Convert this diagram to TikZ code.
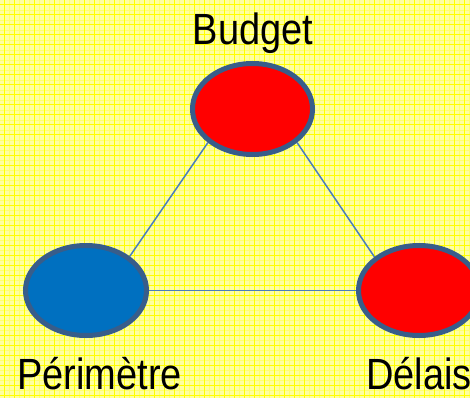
\documentclass[tikz,border=0pt]{standalone}
\usepackage{fontspec}
\setmainfont{Liberation Sans}
\usetikzlibrary{shapes.geometric}
\definecolor{bgyellow}{HTML}{FFFFA0}
\definecolor{gridmajor}{HTML}{FFFF00}
\definecolor{gridminor}{HTML}{FFFF70}
\definecolor{rimblue}{HTML}{385D8A}
\definecolor{linkblue}{HTML}{4A7EBB}
\definecolor{redfill}{HTML}{FF0000}
\definecolor{bluefill}{HTML}{0070C0}
\pgfdeclarelayer{bg}
\pgfsetlayers{bg,main}
\tikzset{
  blob/.style={ellipse, draw=rimblue, line width=5pt, inner sep=0pt},
  link/.style={draw=linkblue, line width=1.5pt},
  lbl/.style={inner sep=0pt, font=\fontsize{38}{40}\selectfont}
}
\begin{document}
\begin{tikzpicture}[x=1pt,y=-1pt]
\useasboundingbox (0,0) rectangle (470,398);
\begin{pgfonlayer}{bg}
  \fill[bgyellow] (0,0) rectangle (470,398);
  \foreach \x in {9,19,...,469} \draw[gridminor, line width=0.5pt] (\x,0) -- (\x,398);
  \foreach \y in {10,20,...,398} \draw[gridminor, line width=0.5pt] (0,\y) -- (470,\y);
  \foreach \x in {4,14,...,464} \draw[gridmajor, line width=1pt] (\x,0) -- (\x,398);
  \foreach \y in {5,15,...,395} \draw[gridmajor, line width=1pt] (0,\y) -- (470,\y);
\end{pgfonlayer}

\node[blob, fill=redfill, minimum width=120pt, minimum height=91pt] (top) at (252.5,109) {};
\node[blob, fill=bluefill, minimum width=121pt, minimum height=90pt] (left) at (86,290.5) {};
\node[blob, fill=redfill, minimum width=121pt, minimum height=90pt] (right) at (419,290.5) {};

\begin{pgfonlayer}{bg}
  \path[link] (top.217) -- (left.38);
  \path[link] (top.323) -- (right.143);
  \path[link] (left.east) -- (right.west);
\end{pgfonlayer}

\node[lbl, anchor=base] (budget) at (253,45) {\scalebox{1}[1.15]{Budget}};
\node[lbl, anchor=base] (perim) at (99.5,389) {\scalebox{1}[1.15]{Périmètre}};
\node[lbl, anchor=base west] (delais) at (366,389) {\scalebox{1}[1.15]{Délais}};
\end{tikzpicture}
\end{document}
